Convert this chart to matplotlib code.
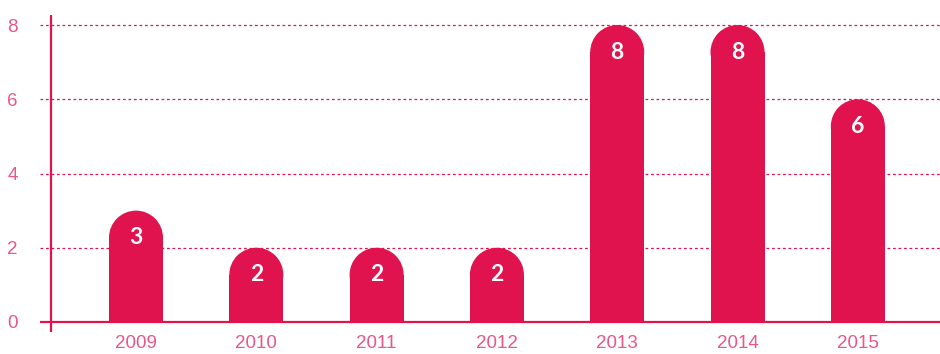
import matplotlib.pyplot as plt
from matplotlib.patches import Ellipse

years = ["2009", "2010", "2011", "2012", "2013", "2014", "2015"]
counts = [3, 2, 2, 2, 8, 8, 6]
yticks = [0, 2, 4, 6, 8]

bar_color = "#e0134f"
label_color = "#e8578a"

fig = plt.figure(figsize=(9.4, 3.54), dpi=100)
ax = fig.add_axes([40 / 940, 22 / 354, 900 / 940, 317 / 354])
ax.set_xlim(-0.798, 6.683)
ax.set_ylim(-0.27, 8.27)

# bar width and cap radius in data units (cap is a half circle on screen)
bw = 0.449
r = 0.728

xs = list(range(len(years)))
ax.bar(xs, [c - r for c in counts], width=bw, color=bar_color, zorder=3)
for x, c in zip(xs, counts):
    ax.add_patch(Ellipse((x, c - r), bw, 2 * r, color=bar_color, zorder=3, lw=0))
    ax.text(x, c - r, str(c), color="white", ha="center", va="center",
            fontsize=16.5, fontweight="bold", family="Lato", zorder=4)

for y in yticks[1:]:
    ax.axhline(y, color=bar_color, lw=0.9, ls=(0, (2.2, 2.2)), zorder=1)
ax.axhline(0, color=bar_color, lw=1.6, zorder=5)
ax.axvline(-0.707, color=bar_color, lw=1.6, zorder=5)

for s in ax.spines.values():
    s.set_visible(False)

ax.set_xticks(xs)
ax.set_xticklabels(years)
ax.set_yticks(yticks)
ax.tick_params(length=0, labelcolor=label_color, labelsize=13.5)
ax.tick_params(axis="x", pad=2)
ax.tick_params(axis="y", pad=16)
for t in ax.get_xticklabels() + ax.get_yticklabels():
    t.set_family("Liberation Sans")

fig.savefig("out.png", dpi=100)
